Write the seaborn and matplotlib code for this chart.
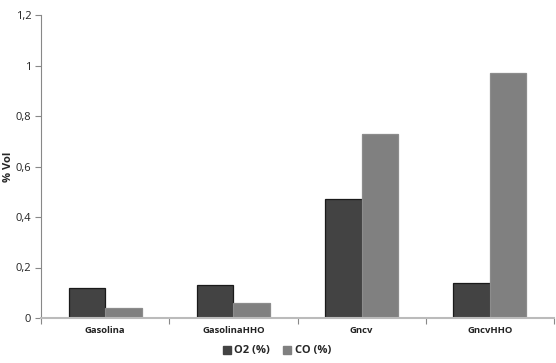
import matplotlib
matplotlib.use("Agg")
import matplotlib.pyplot as plt
import pandas as pd
import seaborn as sns
from matplotlib.ticker import FixedLocator
from matplotlib.patches import Patch

# data
categories = ["Gasolina", "GasolinaHHO", "Gncv", "GncvHHO"]
o2 = [0.12, 0.13, 0.47, 0.14]
co = [0.04, 0.06, 0.73, 0.97]
series = ["O2 (%)", "CO (%)"]
yticks = [0, 0.2, 0.4, 0.6, 0.8, 1.0, 1.2]
ytick_labels = ["0", "0,2", "0,4", "0,6", "0,8", "1", "1,2"]

df = pd.DataFrame({
    "cat": categories * 2,
    "serie": [series[0]] * 4 + [series[1]] * 4,
    "value": o2 + co,
})

sns.set_style("white")
plt.rcParams["font.family"] = ["Open Sans", "DejaVu Sans"]

fig = plt.figure(figsize=(5.56, 3.63), dpi=100)
ax = fig.add_axes([41 / 556, 1 - 318 / 363, 513 / 556, 303 / 363])

sns.barplot(data=df, x="cat", y="value", hue="serie", order=categories,
            hue_order=series, palette=["#434343", "#808080"],
            width=0.57, ax=ax, legend=False)

edges = ["#1a1a1a", "#8c8c8c"]
for i, cont in enumerate(ax.containers):
    for bar in cont:
        bar.set_edgecolor(edges[i])
        bar.set_linewidth(0.9)

ax.set_ylim(0, 1.2)
ax.set_xlim(-0.5, 3.5)
ax.set_yticks(yticks)
ax.set_yticklabels(ytick_labels, fontsize=8, color="#222222")
ax.set_xticks(range(len(categories)))
ax.set_xticklabels(categories, fontsize=6.8, fontweight="bold", color="#222222")
ax.tick_params(axis="x", length=0, pad=6)
ax.xaxis.set_minor_locator(FixedLocator([-0.5, 0.5, 1.5, 2.5, 3.5]))
ax.tick_params(axis="x", which="minor", length=4, color="#888888", width=0.8,
               direction="out", bottom=True)
ax.tick_params(axis="y", length=4, color="#888888", width=0.8, direction="out",
               left=True, pad=3)

ax.set_xlabel("")
ax.set_ylabel("% Vol", fontsize=8, fontweight="bold")
ax.yaxis.set_label_coords(-27 / 513, 0.5)

for s in ["top", "right"]:
    ax.spines[s].set_visible(False)
ax.spines["left"].set_color("#888888")
ax.spines["left"].set_linewidth(0.8)
ax.spines["bottom"].set_color("#bbbbbb")
ax.spines["bottom"].set_linewidth(1.5)

handles = [Patch(facecolor="#434343", edgecolor="#434343"),
           Patch(facecolor="#808080", edgecolor="#808080")]
fig.legend(handles, series, loc="center", bbox_to_anchor=(277 / 556, 1 - 351 / 363),
           ncol=2, frameon=False, handlelength=0.7, handleheight=0.7,
           handletextpad=0.3, columnspacing=1.2,
           prop={"size": 8, "weight": "bold"})

fig.savefig("out.png", dpi=100)
